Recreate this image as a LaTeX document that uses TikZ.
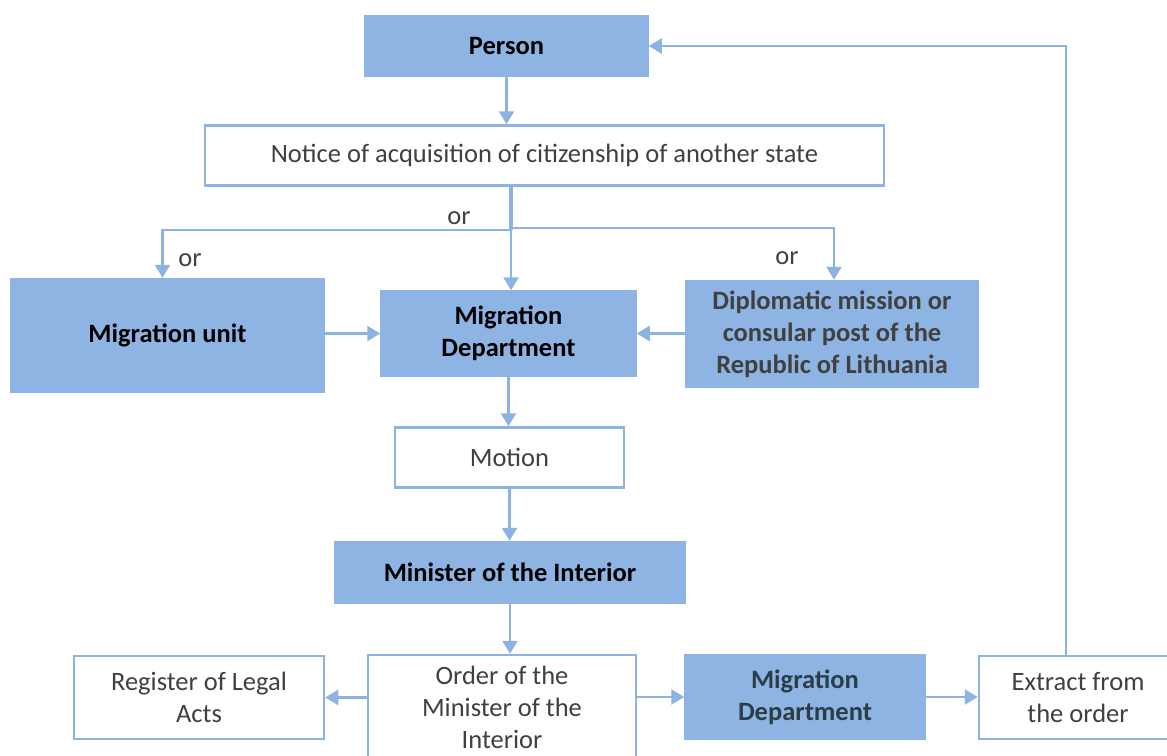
\documentclass[tikz,border=0pt]{standalone}
\usepackage{fontspec}
\setmainfont{Carlito}
\usepackage{tikz}
\usetikzlibrary{arrows.meta,positioning}
\definecolor{boxblue}{HTML}{8EB4E3}
\definecolor{lineblue}{HTML}{8DB3E2}
\definecolor{txtgray}{HTML}{404040}
\definecolor{txtslate}{HTML}{2B3E48}

\begin{document}
\begin{tikzpicture}[
  x=1pt,y=-1pt,
  font=\fontsize{26.5}{32}\selectfont,
  blue/.style={draw=boxblue,line width=1.5pt,fill=boxblue,align=center,inner sep=2pt,font=\fontsize{26.5}{32}\selectfont\bfseries},
  plain/.style={draw=lineblue,line width=2.5pt,fill=white,align=center,inner sep=2pt,text=txtgray},
  lbl/.style={text=txtgray,inner sep=1pt},
  wire/.style={draw=lineblue,line width=2.5pt},
  flow/.style={wire,-{Triangle[length=13pt,width=15pt]}}]
\useasboundingbox (0,0) rectangle (1167,755);
\node[blue,minimum width=283pt,minimum height=61pt] (person) at (506.5,46) {Person};
\node[plain,minimum width=679pt,minimum height=60pt] (notice) at (544.5,155.5) {Notice of acquisition of citizenship of another state};
\node[blue,minimum width=313pt,minimum height=114pt] (munit) at (167.5,335.5) {Migration unit};
\node[blue,minimum width=255pt,minimum height=85pt] (mdep) at (508.5,333.5) {Migration\\Department};
\node[blue,minimum width=292pt,minimum height=107pt,text=txtgray] (dipl) at (832,334) {Diplomatic mission or\\consular post of the\\Republic of Lithuania};
\node[plain,minimum width=229pt,minimum height=60pt] (motion) at (509.5,457.5) {Motion};
\node[blue,minimum width=350pt,minimum height=62pt] (minister) at (510,572.5) {Minister of the Interior};
\node[plain,minimum width=250pt,minimum height=83pt] (register) at (199,697.5) {Register of Legal\\Acts};
\node[plain,minimum width=268pt,minimum height=115pt] (order) at (502,712.5) {};
\node[lbl,align=center] (ordertxt) at (502,707.5) {Order of the\\Minister of the\\Interior};
\node[blue,minimum width=240pt,minimum height=84pt,text=txtslate] (mdep2) at (805,697) {Migration\\Department};
\node[plain,minimum width=198pt,minimum height=83pt] (extract) at (1078,697.5) {Extract from\\the order};
\node[lbl] (or1) at (459,218) {or};
\node[lbl] (or2) at (190,260) {or};
\node[lbl] (or3) at (787,258) {or};
\coordinate (fork) at (511,230);
\coordinate (ret) at (1066,45);
\draw[flow] (person) -- (person |- notice.north);
\draw[wire,line width=4pt] (notice.south -| fork) -- (fork);
\draw[flow] (fork) -| ([xshift=-5pt]munit.north);
\draw[flow] (fork) -- (fork |- mdep.north);
\draw[flow] ([yshift=2pt]fork) -| ([xshift=2pt]dipl.north);
\draw[flow] (munit.east |- mdep) -- (mdep.west);
\draw[flow] (dipl.west |- mdep) -- (mdep.east);
\draw[flow] (mdep) -- (mdep |- motion.north);
\draw[flow] (motion) -- (motion |- minister.north);
\draw[flow] (minister) -- (minister |- order.north);
\draw[flow] (order.west |- register) -- (register.east);
\draw[flow] (order.east |- mdep2) -- (mdep2.west);
\draw[flow] (mdep2.east) -- (extract.west |- mdep2);
\draw[flow] (extract.north -| ret) |- (person.east);
\end{tikzpicture}
\end{document}
